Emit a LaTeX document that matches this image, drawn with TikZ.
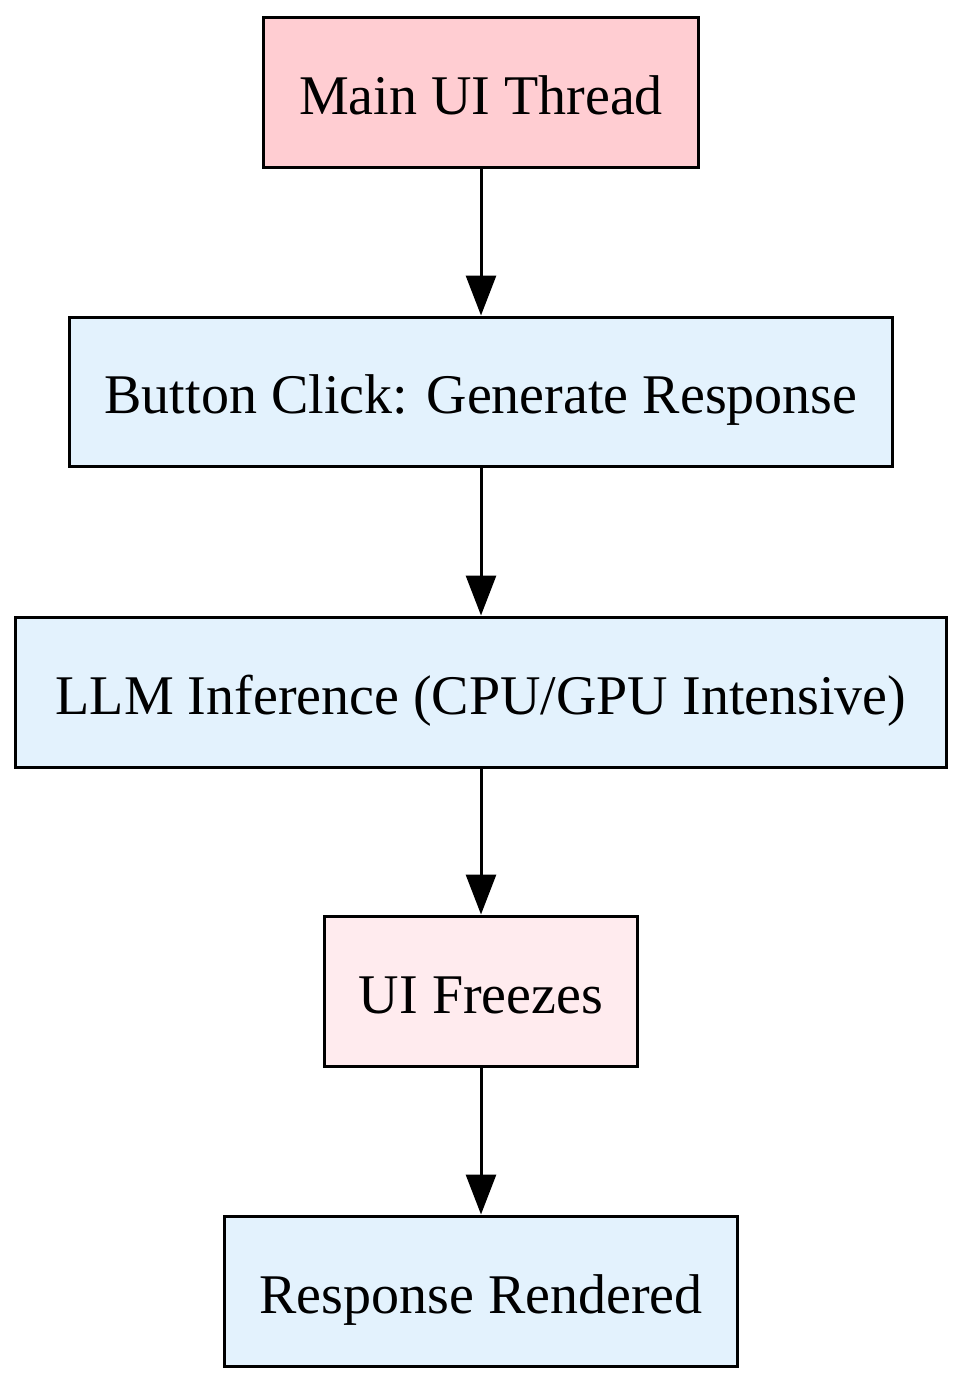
\documentclass[tikz,border=0pt]{standalone}
\usepackage{fontspec}
\setmainfont{Liberation Serif}
\usetikzlibrary{arrows.meta}
\definecolor{pinkA}{HTML}{FFCDD2}
\definecolor{pinkB}{HTML}{FFEBEE}
\definecolor{blueA}{HTML}{E3F2FD}
\tikzset{
 box/.style={draw=black,line width=1.5pt,inner sep=0pt,font=\fontsize{28}{32}\selectfont,text depth=0pt,text height=22pt},
 arr/.style={line width=1.5pt,-{Triangle[length=20pt,width=15pt]}}
}
\begin{document}
\begin{tikzpicture}[x=0.5pt,y=-0.5pt]
\useasboundingbox (0,0) rectangle (963,1383);
\node[box,fill=pinkA,minimum width=217.5pt,minimum height=75pt] (a) at (481,92) {Main UI Thread};
\node[box,fill=blueA,minimum width=411.5pt,minimum height=74.5pt] (b) at (481,391.5) {Button Click: Generate Response};
\node[box,fill=blueA,minimum width=465.5pt,minimum height=75pt] (c) at (481,692) {LLM Inference (CPU/GPU Intensive)};
\node[box,fill=pinkB,minimum width=156.5pt,minimum height=75pt] (d) at (481,991) {UI Freezes};
\node[box,fill=blueA,minimum width=256.5pt,minimum height=75pt] (e) at (481,1291) {Response Rendered};
\draw[arr] (a) -- (b);
\draw[arr] (b) -- (c);
\draw[arr] (c) -- (d);
\draw[arr] (d) -- (e);
\end{tikzpicture}
\end{document}
